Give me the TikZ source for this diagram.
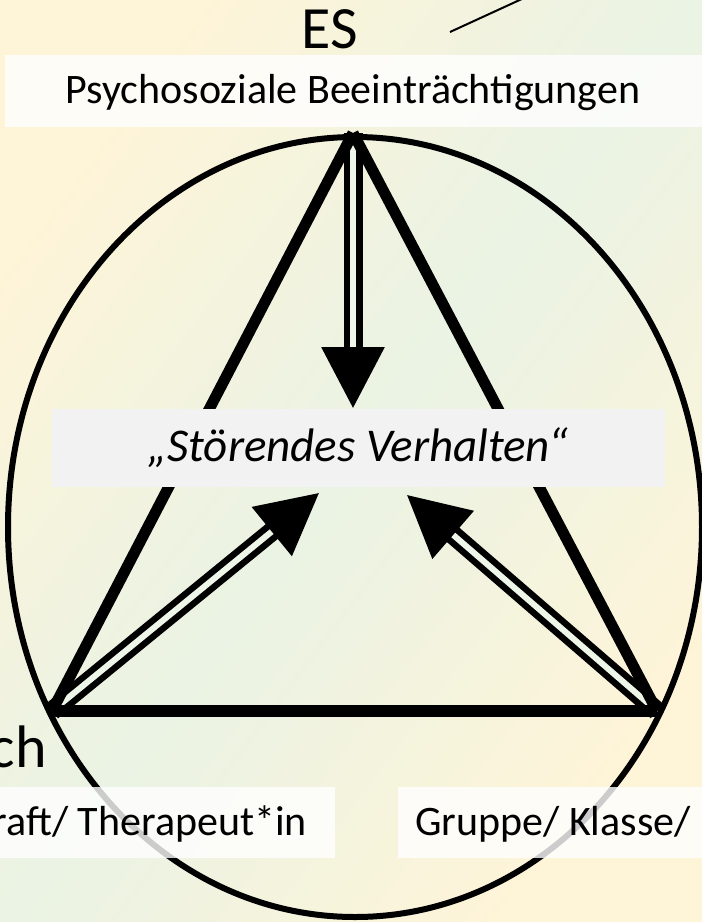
\documentclass[tikz,border=0pt]{standalone}
\usepackage{fontspec}
\setmainfont{Carlito}
\usetikzlibrary{arrows.meta,positioning,shadings}
\definecolor{bgcream}{RGB}{254,244,216}
\definecolor{bggreen}{RGB}{234,243,228}
\definecolor{boxgrey}{RGB}{242,242,242}
\definecolor{shaftfill}{RGB}{238,245,233}

\begin{document}
\begin{tikzpicture}[x=1pt, y=-1pt,
    bigtext/.style={font=\fontsize{60}{72}\selectfont, inner sep=0pt},
    labeltext/.style={font=\fontsize{42}{50}\selectfont, inner sep=0pt},
    band/.style={fill=white, fill opacity=0.8},
    triside/.style={line width=11pt, line join=miter},
    dblarrow/.style={double=shaftfill, double distance=6pt, line width=6.5pt, -{Triangle[length=61pt, width=62pt]}}]
        \useasboundingbox (0,0) rectangle (702,922);
        \clip (0,0) rectangle (702,922);
        \shade[top color=bgcream, bottom color=bgcream, middle color=bggreen, shading angle=53] (0,0) rectangle (702,922);

        % ring
        \draw[line width=6pt] (355,527) ellipse [x radius=347, y radius=390];
        \coordinate (es) at (353,133);
        \coordinate (ich) at (52,711);
        \coordinate (grp) at (657,711);
        \coordinate (tipL) at (319,493);
        \coordinate (tipR) at (407,495);

        % arrows first, so the triangle hides their tails
        \draw[dblarrow] (es) -- (353,408);
        \draw[dblarrow] (ich) -- (tipL);
        \draw[dblarrow] (grp) -- (tipR);

        \draw[triside] (es) -- (ich);
        \draw[triside] (es) -- (grp);
        \draw[line width=12pt] (ich) -- (grp);

        \node[rectangle, fill=boxgrey, minimum width=613pt, minimum height=78pt, inner sep=0pt, font=\fontsize{47}{56}\selectfont\itshape] (sv) at (358,448) {„Störendes Verhalten“};

        % labels
        \fill[band] (5,55) rectangle (702,127);
        \fill[band] (0,787) rectangle (335,858);
        \fill[band] (398,787) rectangle (702,858);
        \node[bigtext, anchor=base] (estext) at (330,48) {ES};
        \node[labeltext, anchor=base] (psy) at (353,103) {Psychosoziale Beeinträchtigungen};
        \node[bigtext, anchor=base east] (ichtext) at (47,767) {ch};
        \node[labeltext, anchor=base east] (fach) at (307,835) {raft/ Therapeut*in};
        \node[labeltext, anchor=base west] (gruppe) at (415,835) {Gruppe/ Klasse/};

        \coordinate (lnA) at (450,32);
        \coordinate (lnB) at (524,-2);
        \draw[line width=2pt] (lnA) -- (lnB);
      \end{tikzpicture}
\end{document}
